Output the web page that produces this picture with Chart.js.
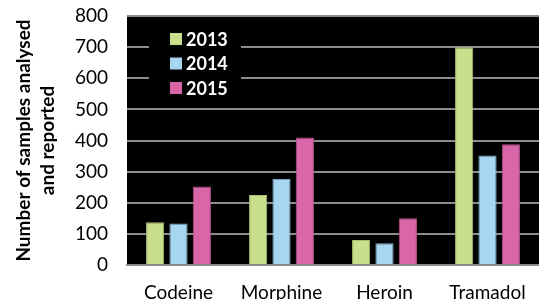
<!DOCTYPE html>
<html>
<head>
<meta charset="utf-8">
<script src="https://cdn.jsdelivr.net/npm/chart.js@4"></script>
<style>
  html, body { margin: 0; padding: 0; background: #fff; }
  #wrap { width: 539px; height: 300px; }
</style>
</head>
<body>
<div id="wrap"><canvas id="chart" width="539" height="300"></canvas></div>
<script>
// data
const categories = ['Codeine', 'Morphine', 'Heroin', 'Tramadol'];
const years = ['2013', '2014', '2015'];
const values2013 = [137, 225, 80, 700];
const values2014 = [133, 277, 70, 352];
const values2015 = [252, 410, 150, 388];
const yTicks = [0, 100, 200, 300, 400, 500, 600, 700, 800];

const colors = ['#c9df8e', '#a6d6f1', '#d966a8'];
const borders = ['#a9bd72', '#86b4cf', '#b5538b'];

// black plot background
const plotBg = {
  id: 'plotBg',
  beforeDraw(chart) {
    const a = chart.chartArea, ctx = chart.ctx;
    ctx.save();
    ctx.fillStyle = '#000';
    ctx.fillRect(a.left, a.top, a.right - a.left, a.bottom - a.top);
    ctx.restore();
  }
};

// legend box inside the plot, on top of the grid lines
const innerLegend = {
  id: 'innerLegend',
  beforeDatasetsDraw(chart) {
    const ctx = chart.ctx, top = chart.chartArea.top;
    ctx.save();
    ctx.fillStyle = '#000';
    ctx.fillRect(149, top + 6, 92, 78);
    ctx.font = 'bold 18px Lato, "Open Sans", sans-serif';
    ctx.textBaseline = 'middle';
    chart.data.datasets.forEach((ds, i) => {
      const y = top + 23 + i * 24.5;
      ctx.fillStyle = ds.backgroundColor;
      ctx.fillRect(170, y - 6, 12, 12);
      ctx.fillStyle = '#fff';
      ctx.fillText(ds.label, 186, y + 1);
    });
    ctx.restore();
  }
};

new Chart(document.getElementById('chart'), {
  type: 'bar',
  data: {
    labels: categories,
    datasets: [values2013, values2014, values2015].map((v, i) => ({
      label: years[i],
      data: v,
      backgroundColor: colors[i],
      borderColor: borders[i],
      borderWidth: 1,
      categoryPercentage: 0.68,
      barPercentage: 0.78
    }))
  },
  options: {
    responsive: false,
    animation: false,
    layout: { padding: { top: 16, right: 0, left: 0, bottom: 0 } },
    plugins: { legend: { display: false }, tooltip: { enabled: false } },
    scales: {
      x: {
        grid: { display: false, drawTicks: false },
        border: { color: '#8c8c8c', width: 2 },
        ticks: { color: '#000', padding: 16, font: { family: 'Lato, "Open Sans", sans-serif', size: 19 } },
        afterFit(s) { s.height = 35; s.paddingLeft = 0; s.paddingRight = 0; }
      },
      y: {
        min: 0, max: 800,
        afterBuildTicks(s) { s.ticks = yTicks.map(v => ({ value: v })); },
        grid: { color: '#8c8c8c', lineWidth: 2, drawTicks: false },
        border: { display: false },
        ticks: { color: '#000', padding: 19, font: { family: 'Lato, "Open Sans", sans-serif', size: 19 } },
        title: {
          display: true,
          text: ['Number of samples analysed', 'and reported'],
          color: '#000',
          font: { family: 'Lato, "Open Sans", sans-serif', size: 19, weight: 'bold', lineHeight: 1.25 },
          padding: { top: 12, bottom: 0 }
        },
        afterFit(s) { s.width = 127; s.paddingTop = 0; s.paddingBottom = 0; }
      }
    }
  },
  plugins: [plotBg, innerLegend]
});
</script>
</body>
</html>
